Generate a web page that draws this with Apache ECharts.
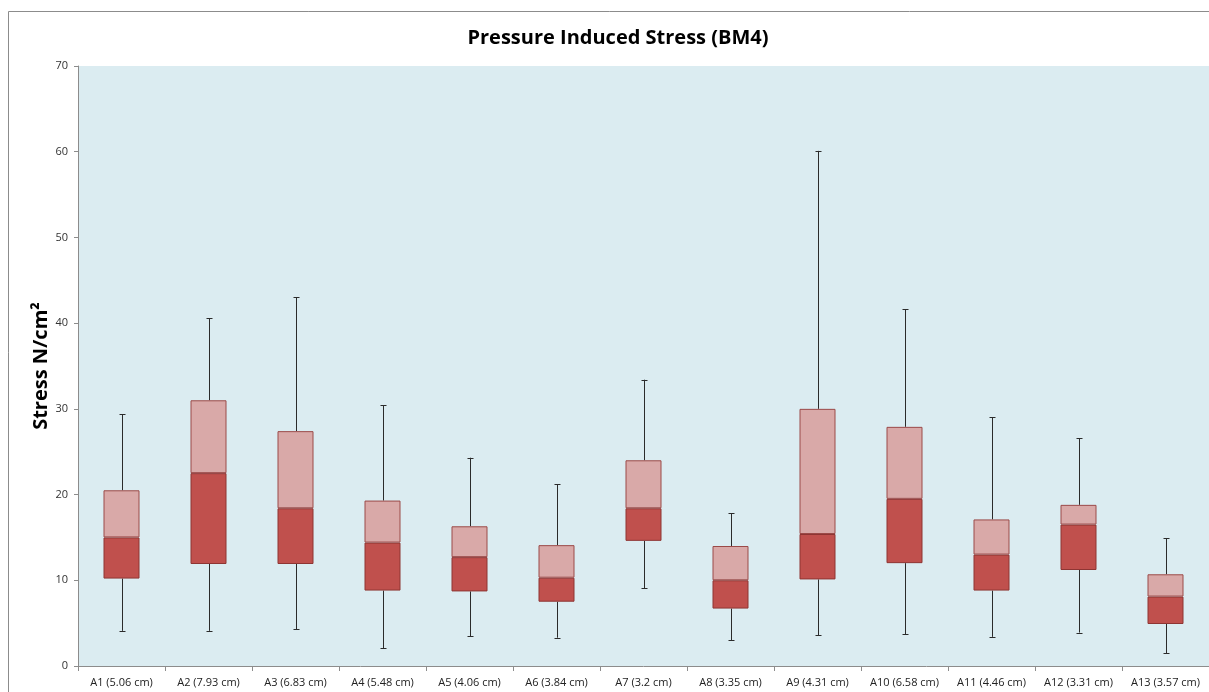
<!DOCTYPE html>
<html>
<head>
<meta charset="utf-8">
<script src="https://cdn.jsdelivr.net/npm/echarts@6/dist/echarts.min.js"></script>
<style>
html,body{margin:0;padding:0;background:#fff;}
#chart{width:1209px;height:692px;}
</style>
</head>
<body>
<div id="chart"></div>
<script>
const categories = ['A1 (5.06 cm)','A2 (7.93 cm)','A3 (6.83 cm)','A4 (5.48 cm)','A5 (4.06 cm)','A6 (3.84 cm)','A7 (3.2 cm)','A8 (3.35 cm)','A9 (4.31 cm)','A10 (6.58 cm)','A11 (4.46 cm)','A12 (3.31 cm)','A13 (3.57 cm)'];
const minValues    = [4.1, 4.1, 4.3, 2.1, 3.5, 3.3, 9.1, 3.0, 3.6, 3.7, 3.4, 3.9, 1.5];
const q1Values     = [10.2, 11.9, 11.9, 8.8, 8.7, 7.5, 14.6, 6.7, 10.1, 12.0, 8.8, 11.2, 4.9];
const medianValues = [15.0, 22.5, 18.4, 14.4, 12.7, 10.3, 18.4, 10.0, 15.4, 19.5, 13.0, 16.5, 8.1];
const q3Values     = [20.5, 31.0, 27.4, 19.3, 16.3, 14.1, 24.0, 14.0, 30.0, 27.9, 17.1, 18.8, 10.7];
const maxValues    = [29.4, 40.6, 43.0, 30.4, 24.3, 21.2, 33.4, 17.8, 60.1, 41.6, 29.0, 26.6, 14.9];
const yTicks = [0, 10, 20, 30, 40, 50, 60, 70];

const lowerBox = q1Values.map((q, i) => +(medianValues[i] - q).toFixed(2));
const upperBox = q3Values.map((q, i) => +(q - medianValues[i]).toFixed(2));
const whiskerData = categories.map((c, i) => [i, minValues[i], q1Values[i], q3Values[i], maxValues[i]]);

const chart = echarts.init(document.getElementById('chart'), null, {renderer: 'canvas'});
const option = {
  animation: false,
  backgroundColor: '#ffffff',
  title: {
    text: 'Pressure Induced Stress (BM4)',
    left: 613, top: 23, textAlign: 'center',
    textStyle: {fontFamily: 'Open Sans', fontWeight: 'bold', fontSize: 20, color: '#000'}
  },
  graphic: [{
    type: 'rect', silent: true, z: 0,
    shape: {x: 8.5, y: 11.5, width: 1400, height: 800},
    style: {fill: 'none', stroke: '#8c8c8c', lineWidth: 1}
  }],
  grid: {
    left: 78, top: 66, right: 0, bottom: 26,
    show: true, backgroundColor: '#dbecf1', borderWidth: 0
  },
  xAxis: {
    type: 'category',
    data: categories,
    boundaryGap: true,
    axisLine: {lineStyle: {color: '#8c8c8c', width: 1}},
    axisTick: {show: true, length: 5, lineStyle: {color: '#8c8c8c'}},
    axisLabel: {fontFamily: 'Open Sans', fontSize: 11, color: '#222', margin: 11, interval: 0},
    splitLine: {show: false}
  },
  yAxis: {
    type: 'value',
    min: yTicks[0], max: yTicks[yTicks.length - 1], interval: 10,
    name: 'Stress N/cm²',
    nameLocation: 'middle',
    nameGap: 27,
    nameMoveOverlap: false,
    nameRotate: 90,
    nameTextStyle: {fontFamily: 'Open Sans', fontWeight: 'bold', fontSize: 20, color: '#000'},
    axisLine: {show: true, lineStyle: {color: '#8c8c8c', width: 1}},
    axisTick: {show: true, length: 4, lineStyle: {color: '#8c8c8c'}},
    axisLabel: {fontFamily: 'Open Sans', fontSize: 11, color: '#333', margin: 10},
    splitLine: {show: false}
  },
  series: [
    {
      type: 'bar', stack: 'box', data: q1Values, barWidth: 36,
      itemStyle: {color: 'rgba(0,0,0,0)'}, silent: true
    },
    {
      type: 'bar', stack: 'box', data: lowerBox, barWidth: 36,
      itemStyle: {color: '#c0504d', borderColor: '#8e3533', borderWidth: 1}
    },
    {
      type: 'bar', stack: 'box', data: upperBox, barWidth: 36,
      itemStyle: {color: '#d9a9a8', borderColor: '#9b4a48', borderWidth: 1}
    },
    {
      type: 'custom',
      data: whiskerData,
      z: 1,
      renderItem: function (params, api) {
        const i = api.value(0);
        const pMin = api.coord([i, api.value(1)]);
        const pQ1 = api.coord([i, api.value(2)]);
        const pQ3 = api.coord([i, api.value(3)]);
        const pMax = api.coord([i, api.value(4)]);
        const x = Math.round(pMin[0]) + 0.5;
        const cap = 3;
        const st = {stroke: '#2b2b2b', lineWidth: 1};
        return {
          type: 'group',
          children: [
            {type: 'line', shape: {x1: x, y1: pQ1[1], x2: x, y2: pMin[1]}, style: st},
            {type: 'line', shape: {x1: x - cap, y1: Math.round(pMin[1]) + 0.5, x2: x + cap, y2: Math.round(pMin[1]) + 0.5}, style: st},
            {type: 'line', shape: {x1: x, y1: pQ3[1], x2: x, y2: pMax[1]}, style: st},
            {type: 'line', shape: {x1: x - cap, y1: Math.round(pMax[1]) + 0.5, x2: x + cap, y2: Math.round(pMax[1]) + 0.5}, style: st}
          ]
        };
      }
    }
  ]
};
chart.setOption(option);
</script>
</body>
</html>
